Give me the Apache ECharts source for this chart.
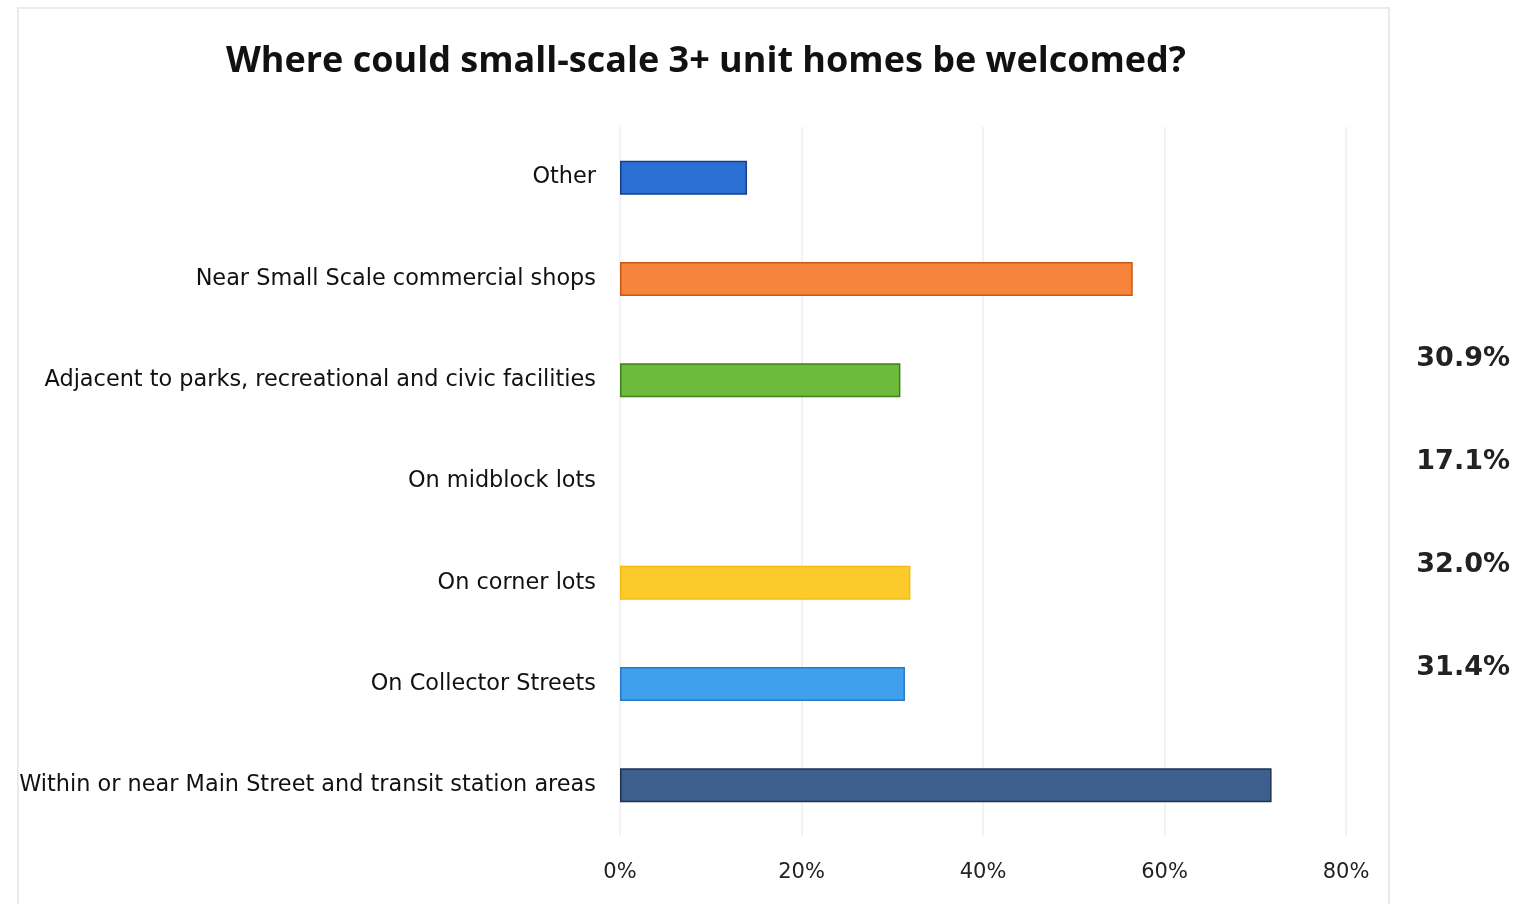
<!DOCTYPE html>
<html>
<head>
<meta charset="utf-8">
<script src="https://cdn.jsdelivr.net/npm/echarts@6/dist/echarts.min.js"></script>
<style>html,body{margin:0;padding:0;background:#fff;}#main{width:1516px;height:904px;}</style>
</head>
<body>
<div id="main"></div>
<script>
const titleText = 'Where could small-scale 3+ unit homes be welcomed?';
const categories = [
  'Within or near Main Street and transit station areas',
  'On Collector Streets',
  'On corner lots',
  'On midblock lots',
  'Adjacent to parks, recreational and civic facilities',
  'Near Small Scale commercial shops',
  'Other'
];
const values = [71.8, 31.4, 32.0, null, 30.9, 56.5, 14.0];
const barColors = ['#3c5f8e', '#3fa0ee', '#fccb2b', '#999999', '#6dbb3b', '#f6853b', '#2b6fd5'];
const borderColors = ['#1f3350', '#2a78c8', '#f3bd10', '#999999', '#3f7f1f', '#c85a14', '#173f8a'];
const xTicks = [0, 20, 40, 60, 80];
const sideLabels = ['30.9%', '17.1%', '32.0%', '31.4%'];

const chart = echarts.init(document.getElementById('main'), null, {renderer: 'canvas'});
const sideY = [361, 464, 567, 670];
chart.setOption({
  backgroundColor: '#ffffff',
  animation: false,
  title: {
    text: titleText,
    left: 701, top: 39, textAlign: 'center',
    textStyle: {fontFamily: 'Open Sans', fontWeight: 'bold', fontSize: 36, color: '#111'}
  },
  grid: {left: 620, right: 170, top: 127, bottom: 68, containLabel: false},
  xAxis: {
    type: 'value', min: xTicks[0], max: xTicks[xTicks.length - 1], interval: 20,
    axisLine: {show: false}, axisTick: {show: false},
    axisLabel: {formatter: v => v + '%', fontFamily: 'DejaVu Sans', fontSize: 21, color: '#222', margin: 26},
    splitLine: {show: true, lineStyle: {color: '#f2f2f2', width: 2}}
  },
  yAxis: {
    type: 'category', data: categories,
    axisLine: {show: false}, axisTick: {show: false},
    axisLabel: {fontFamily: 'DejaVu Sans', fontSize: 22.4, color: '#111', margin: 24}
  },
  series: [{
    type: 'bar', barWidth: 34,
    data: values.map((v, i) => ({
      value: v,
      itemStyle: {color: barColors[i], borderColor: borderColors[i], borderWidth: 1.5}
    }))
  }],
  graphic: [
    {type: 'rect', shape: {x: 18, y: 8, width: 1371, height: 900}, style: {fill: 'none', stroke: '#ebebeb', lineWidth: 2}, silent: true},
    ...sideLabels.map((t, i) => ({
      type: 'text', right: 6, top: sideY[i] - 16,
      style: {text: t, font: 'bold 27px "DejaVu Sans"', fill: '#222'}
    }))
  ]
});
</script>
</body>
</html>
